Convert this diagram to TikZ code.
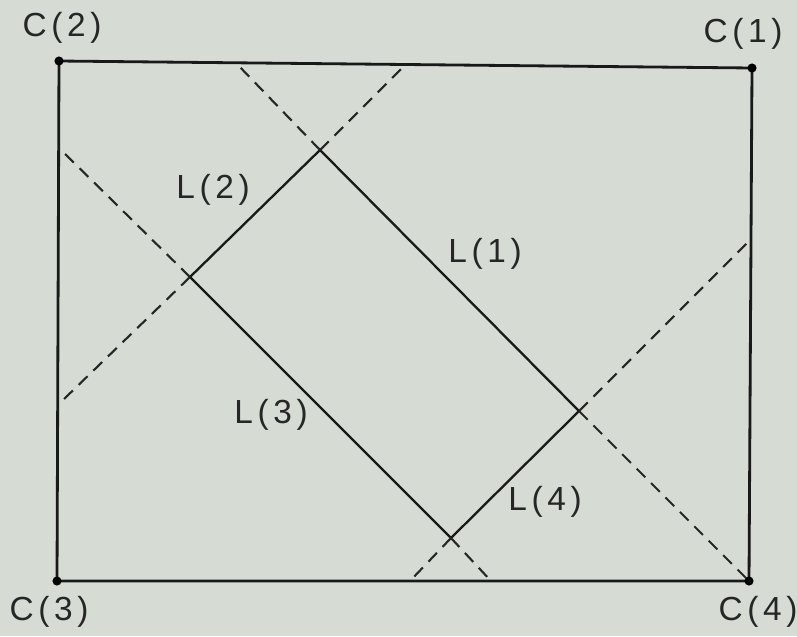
\documentclass[tikz,border=0pt]{standalone}
\usepackage{fontspec}
\newfontfamily\labelfont[LetterSpace=14]{Liberation Sans}
\definecolor{paper}{RGB}{214,219,211}
\tikzset{
  frame/.style = {line width=1.6pt, draw=black!90, line join=round},
  side/.style  = {line width=1.3pt, draw=black!90, line join=miter},
  guide/.style = {line width=1.2pt, draw=black!85,
                  dash pattern=on 7pt off 4.6pt},
  tag/.style   = {font=\labelfont\fontsize{19}{21}\selectfont,
                  text=black!85, inner sep=0pt}
}

\begin{document}
\begin{tikzpicture}[x=0.02cm, y=-0.02cm]
\fill[paper] (0,0) rectangle (797,636);
\useasboundingbox (0,0) rectangle (797,636);

% ---- Corners of the outer frame ----
\coordinate (c1) at (752,68);
\coordinate (c2) at (59,61);
\coordinate (c3) at (57,581);
\coordinate (c4) at (749,581);
\draw[frame] (c2) -- (c1) -- (c4) -- (c3) -- cycle;
\foreach \c in {c1,c2,c3,c4}
  \fill[black] (\c) circle (2.6pt);

% ---- Inner rectangle ----
\coordinate (top)   at (320,150);
\coordinate (left)  at (190,277);
\coordinate (right) at (579,411);
\coordinate (bot)   at (451,538);
\draw[side] (left) -- (top) -- (right) -- (bot) -- cycle;

% ---- Extensions of the sides (dashed) ----
\coordinate (e1) at (236,63);
\coordinate (e2) at (406,64);
\coordinate (e3) at (59,148);
\coordinate (e4) at (63,400);
\coordinate (e5) at (749,581);
\coordinate (e6) at (748,242);
\coordinate (e7) at (410,581);
\coordinate (e8) at (491,581);
\foreach \v/\e in {top/e1, top/e2, left/e3, left/e4,
                   right/e5, right/e6, bot/e7, bot/e8}
  \draw[guide] (\v) -- (\e);

% ---- Labels ----
\node[tag] (tc1) at (743,34)  {C(1)};
\node[tag] (tc2) at (62,28)   {C(2)};
\node[tag] (tc3) at (49,612)  {C(3)};
\node[tag] (tc4) at (758,612) {C(4)};
\node[tag] (tl1) at (485,254) {L(1)};
\node[tag] (tl2) at (213,190) {L(2)};
\node[tag] (tl3) at (271,415) {L(3)};
\node[tag] (tl4) at (545,502) {L(4)};
\end{tikzpicture}
\end{document}
